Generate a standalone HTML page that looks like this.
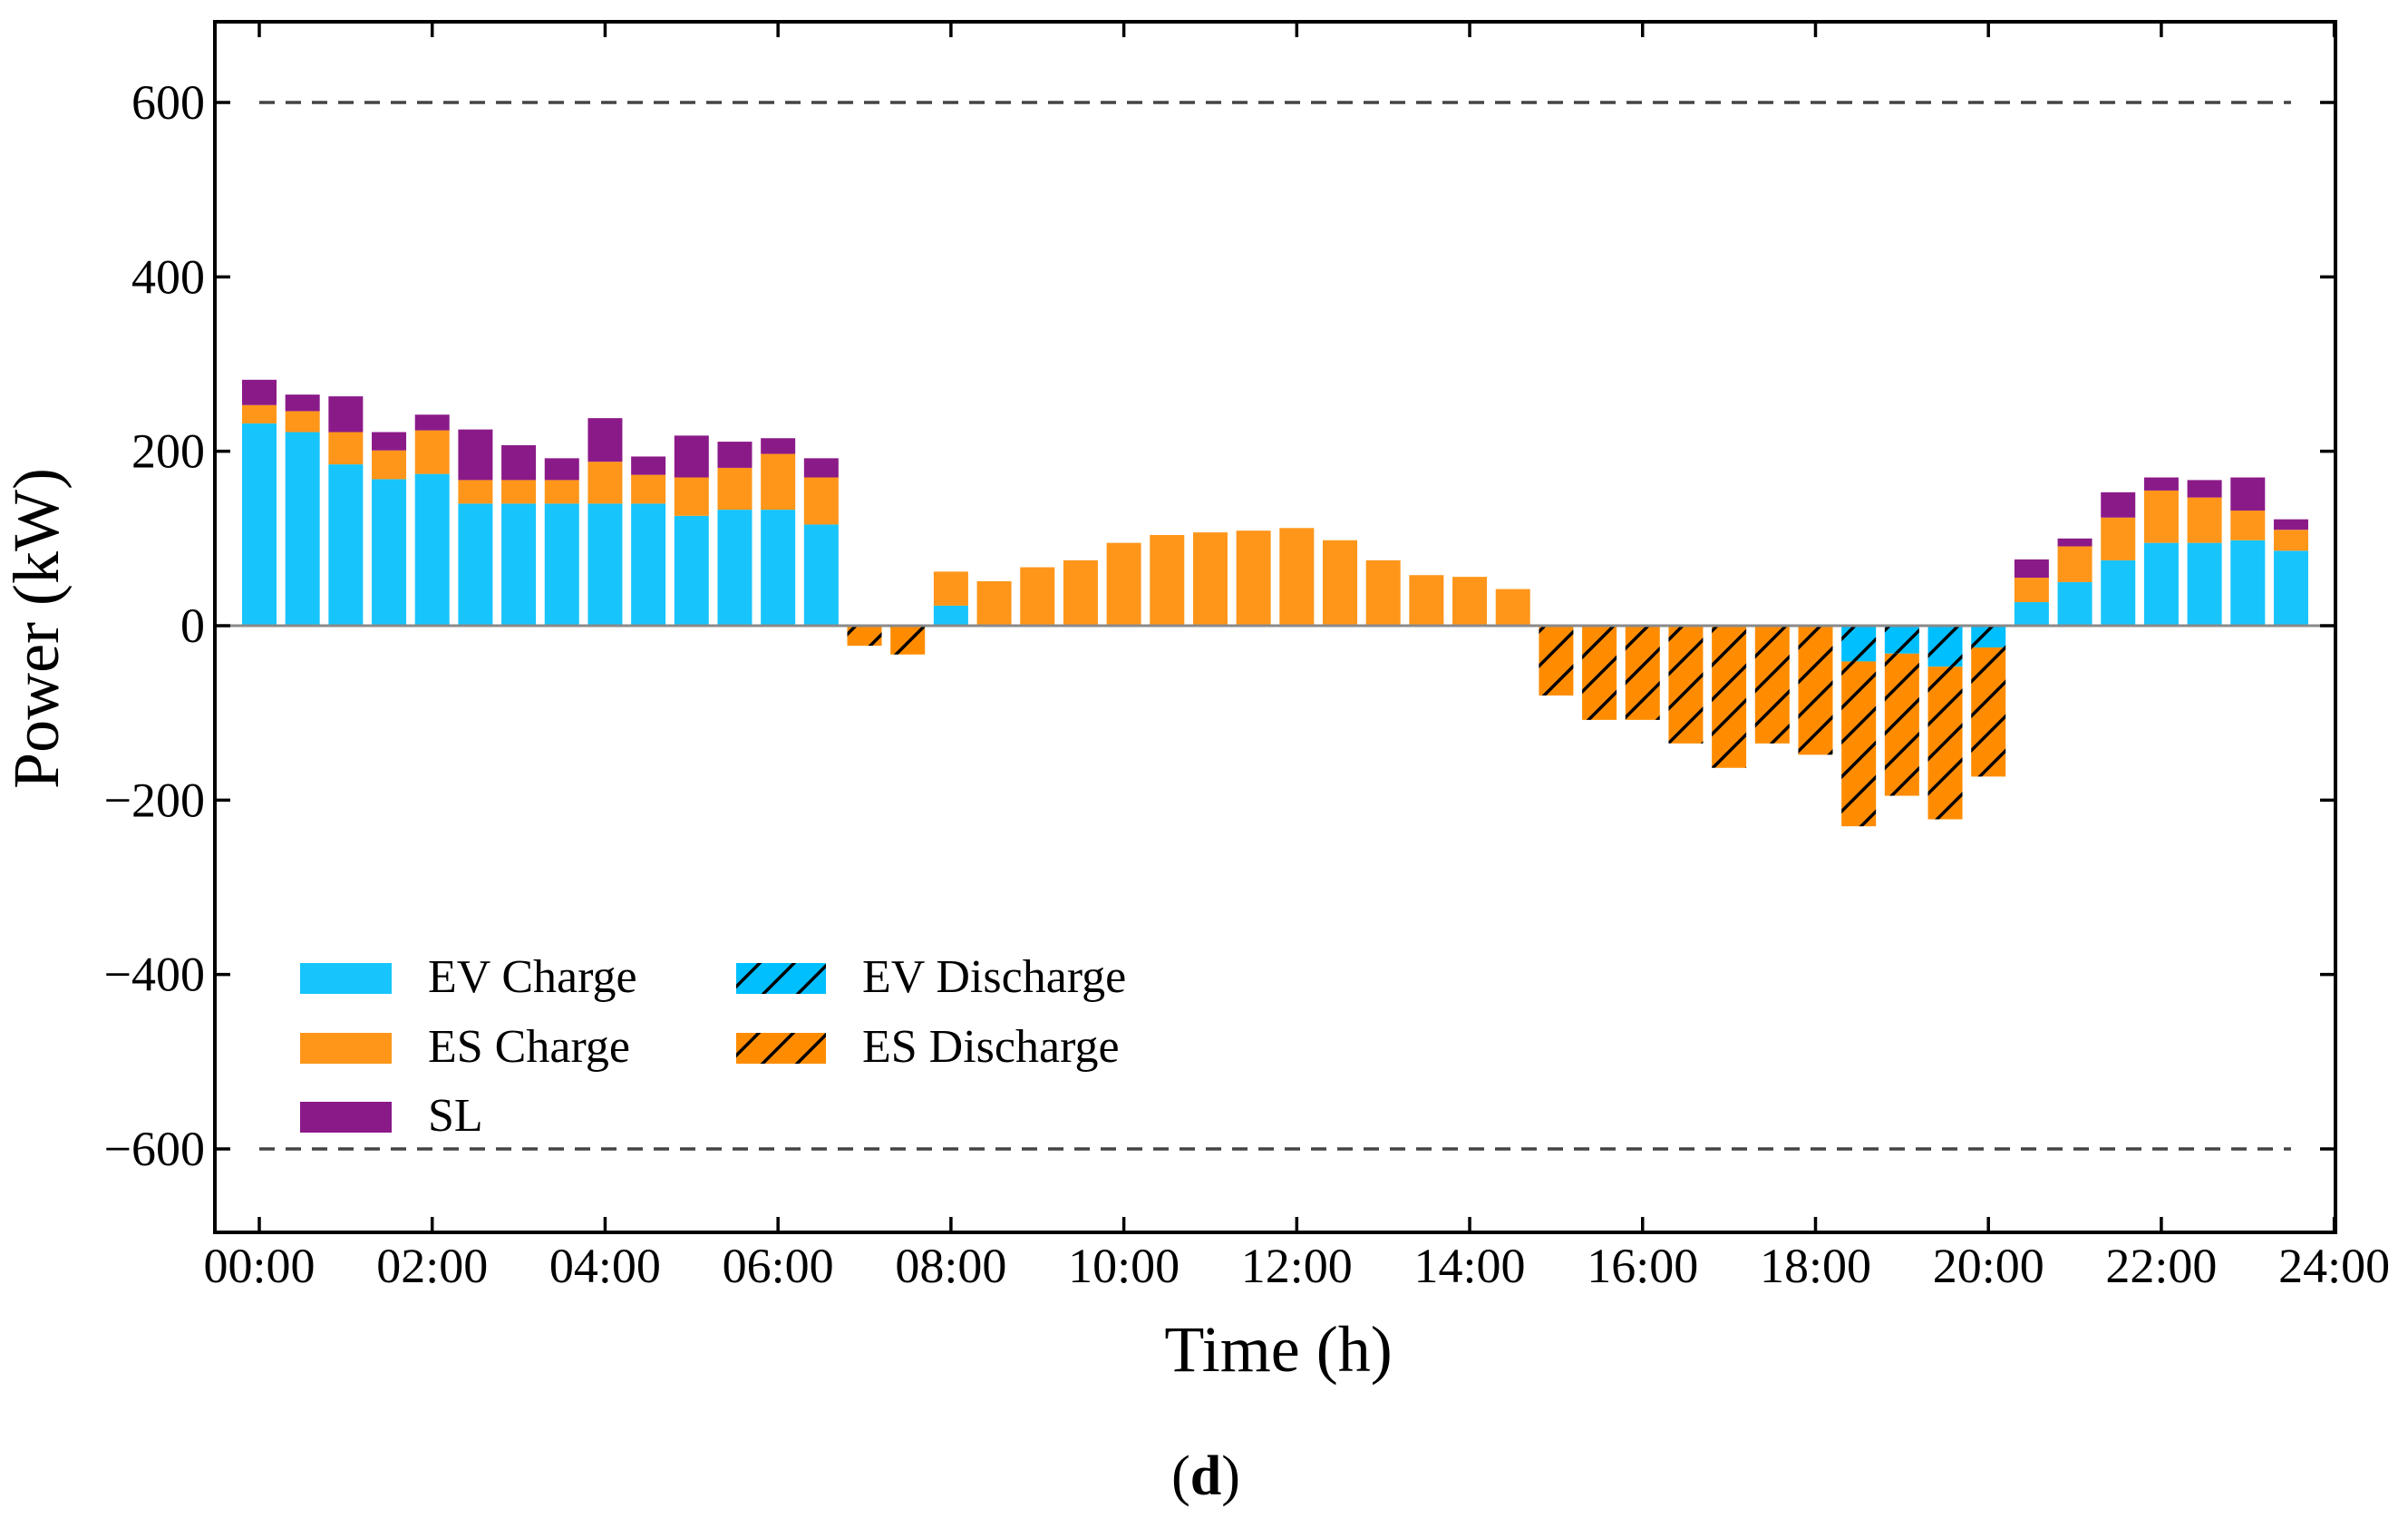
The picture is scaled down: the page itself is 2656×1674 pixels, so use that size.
<!DOCTYPE html>
<html><head><meta charset="utf-8"><style>
html,body{margin:0;padding:0;background:#fff;}
svg{display:block;font-family:"Liberation Serif",serif;}
</style></head><body>
<svg id="chart" width="2656" height="1674" viewBox="0 0 2656 1674" xmlns="http://www.w3.org/2000/svg">
<defs>
<pattern id="hatchO" patternUnits="userSpaceOnUse" width="38" height="38">
<rect width="38" height="38" fill="#FF8C00"/>
<path d="M-4,42 L42,-4 M-4,4 L4,-4 M34,42 L42,34" stroke="#000" stroke-width="3.5"/>
</pattern>
<pattern id="hatchC" patternUnits="userSpaceOnUse" width="38" height="38">
<rect width="38" height="38" fill="#00BFFF"/>
<path d="M-4,42 L42,-4 M-4,4 L4,-4 M34,42 L42,34" stroke="#000" stroke-width="3.5"/>
</pattern>
</defs>
<g id="bars"></g>
<g id="axes"></g>
<g id="legend">
<rect x="331" y="1062" width="101" height="34" fill="#18C4FC"/>
<text x="472" y="1094" font-size="52">EV Charge</text>
<rect x="331" y="1139" width="101" height="34" fill="#FF961A"/>
<text x="472" y="1171" font-size="52">ES Charge</text>
<rect x="331" y="1215" width="101" height="34" fill="#8B1A89"/>
<text x="472" y="1247" font-size="52">SL</text>
<rect x="812" y="1062" width="99" height="34" fill="url(#hatchC)"/>
<text x="951" y="1094" font-size="52">EV Discharge</text>
<rect x="812" y="1139" width="99" height="34" fill="url(#hatchO)"/>
<text x="951" y="1171" font-size="52">ES Discharge</text>
</g>
<text x="1410" y="1512" font-size="72" text-anchor="middle">Time (h)</text>
<text transform="translate(64,693) rotate(-90)" font-size="72" text-anchor="middle">Power (kW)</text>
<text x="1330" y="1648" font-size="62" text-anchor="middle">(<tspan font-weight="bold">d</tspan>)</text>
</svg>
<script>
const evCharge=[232,222,185,168,174,140,140,140,140,140,126,133,133,116,0,0,23,0,0,0,0,0,0,0,0,0,0,0,0,0,0,0,0,0,0,0,0,0,0,0,0,27,50,75,95,95,98,86];
const esCharge=[21,24,37,33,50,27,27,27,48,33,44,48,64,54,0,0,39,51,67,75,95,104,107,109,112,98,75,58,56,42,0,0,0,0,0,0,0,0,0,0,0,28,41,49,60,52,34,24];
const slLoad=[29,19,41,21,18,58,40,25,50,21,48,30,18,22,0,0,0,0,0,0,0,0,0,0,0,0,0,0,0,0,0,0,0,0,0,0,0,0,0,0,0,21,9,29,15,20,38,12];
const evDischarge=[0,0,0,0,0,0,0,0,0,0,0,0,0,0,0,0,0,0,0,0,0,0,0,0,0,0,0,0,0,0,0,0,0,0,0,0,0,41,32,47,25,0,0,0,0,0,0,0];
const esDischarge=[0,0,0,0,0,0,0,0,0,0,0,0,0,0,23,33,0,0,0,0,0,0,0,0,0,0,0,0,0,0,80,108,108,135,163,135,148,189,163,175,148,0,0,0,0,0,0,0];
const yTicks=[-600,-400,-200,0,200,400,600];
const xTickLabels=["00:00","02:00","04:00","06:00","08:00","10:00","12:00","14:00","16:00","18:00","20:00","22:00","24:00"];
const limits=[600,-600];

const NS="http://www.w3.org/2000/svg";
const L=237,R=2576,T=24,B=1359;
const X=h=>286+h*95.36;
const Y=v=>690-v*0.9617;
const BW=38;
function mk(tag,attrs,parent){const e=document.createElementNS(NS,tag);for(const k in attrs)e.setAttribute(k,attrs[k]);parent.appendChild(e);return e;}
const bars=document.getElementById('bars'),axes=document.getElementById('axes');
function seg(i,v0,v1,fill,name){
  if(v1===v0)return;
  const x=X(i*0.5)-BW/2;const y=Math.min(Y(v0),Y(v1));const h=Math.abs(Y(v0)-Y(v1));
  const r=mk('rect',{x:x,y:y,width:BW,height:h,fill:fill},bars);
  
  
}
for(let i=0;i<48;i++){
  const a=evCharge[i],b=a+esCharge[i],c=b+slLoad[i];
  seg(i,0,a,'#18C4FC','bar-ev-charge');
  seg(i,a,b,'#FF961A','bar-es-charge');
  seg(i,b,c,'#8B1A89','bar-sl');
  const d=-evDischarge[i],e=d-esDischarge[i];
  seg(i,0,d,'url(#hatchC)','bar-ev-discharge');
  seg(i,d,e,'url(#hatchO)','bar-es-discharge');
}
const z=mk('line',{x1:L,x2:R,y1:Y(0),y2:Y(0),stroke:'#8a8a8a','stroke-width':3},axes);


limits.forEach(v=>{
  const l=mk('line',{x1:X(0),x2:X(23.5),y1:Y(v),y2:Y(v),stroke:'#444','stroke-width':3.5,'stroke-dasharray':'17 12'},axes);
  
  
});
const f=mk('rect',{x:L,y:T,width:R-L,height:B-T,fill:'none',stroke:'#000','stroke-width':4},axes);


yTicks.forEach(v=>{
  const y=Y(v);
  mk('line',{x1:L,x2:L+17,y1:y,y2:y,stroke:'#000','stroke-width':3.5},axes);
  mk('line',{x1:R,x2:R-17,y1:y,y2:y,stroke:'#000','stroke-width':3.5},axes);
  const t=mk('text',{x:226,y:y+18,'font-size':54,'text-anchor':'end'},axes);
  t.textContent=(v<0?'\u2212':'')+Math.abs(v);
  
  
});
xTickLabels.forEach((s,k)=>{
  const x=X(k*2);
  mk('line',{x1:x,x2:x,y1:B,y2:B-17,stroke:'#000','stroke-width':3.5},axes);
  mk('line',{x1:x,x2:x,y1:T,y2:T+17,stroke:'#000','stroke-width':3.5},axes);
  const t=mk('text',{x:x,y:1414,'font-size':54,'text-anchor':'middle'},axes);
  t.textContent=s;
  
  
});
</script>
</body></html>
